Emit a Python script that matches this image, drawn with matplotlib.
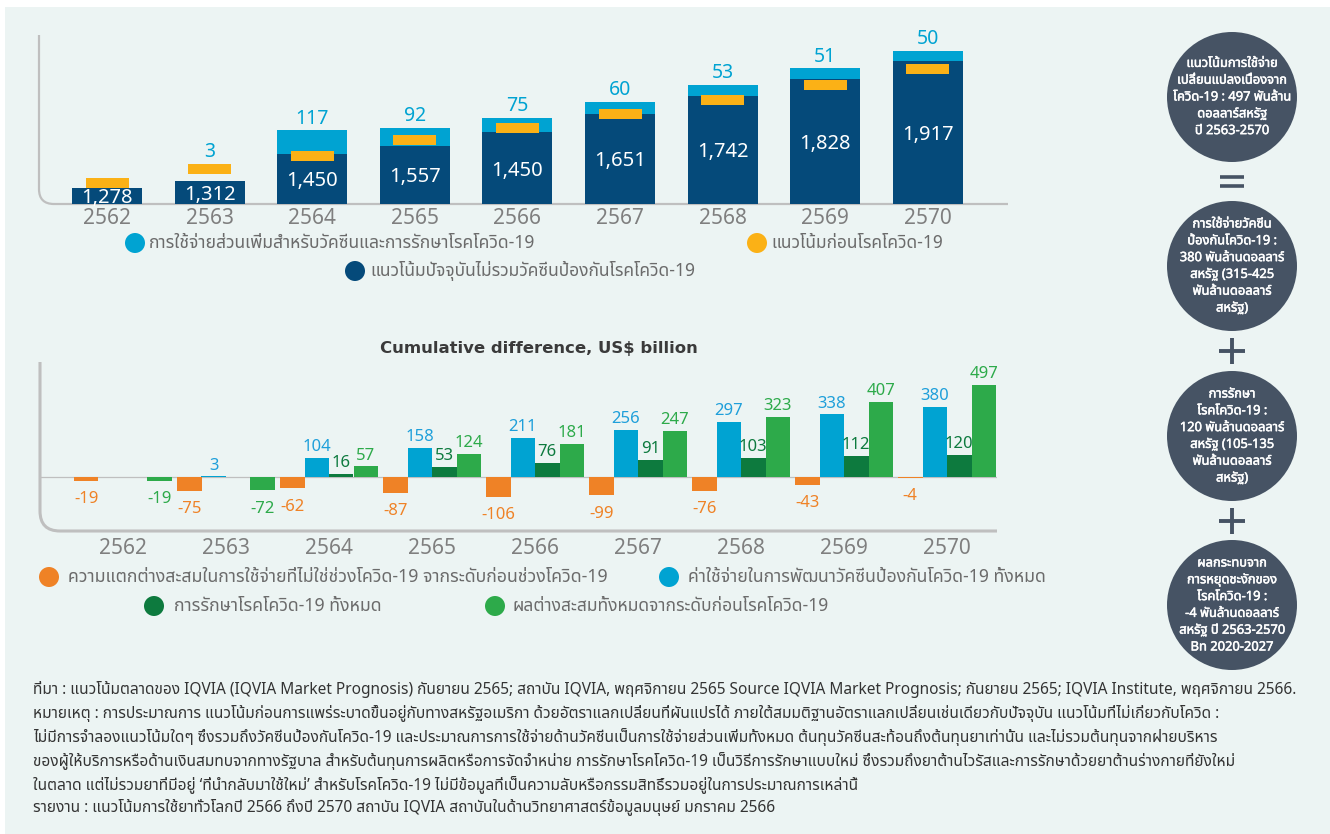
import matplotlib
matplotlib.use("Agg")
import matplotlib.pyplot as plt
import matplotlib.patheffects as pe
import numpy as np
from matplotlib import font_manager, ft2font
from matplotlib.patches import Circle, Rectangle, PathPatch
from matplotlib.path import Path

# ---- data ----
years = ["2562", "2563", "2564", "2565", "2566", "2567", "2568", "2569", "2570"]

# top chart (US$ billion)
current_trend = [1278, 1312, 1450, 1489, 1557, 1651, 1742, 1828, 1917]
current_labels = ["1,278", "1,312", "1,450", "1,557", "1,450", "1,651", "1,742", "1,828", "1,917"]
covid_extra = [0, 3, 117, 92, 75, 60, 53, 51, 50]
pre_covid = [1303, 1373, 1439, 1519, 1579, 1650, 1720, 1796, 1876]

# bottom chart: cumulative difference
non_covid_diff = [-19, -75, -62, -87, -106, -99, -76, -43, -4]
vaccine_total = [0, 3, 104, 158, 211, 256, 297, 338, 380]
therapy_total = [0, 0, 16, 53, 76, 91, 103, 112, 120]
total_diff = [-19, -72, 57, 124, 181, 247, 323, 407, 497]

top_legend = ["การใช้จ่ายส่วนเพิ่มสำหรับวัคซีนและการรักษาโรคโควิด-19",
              "แนวโน้มก่อนโรคโควิด-19",
              "แนวโน้มปัจจุบันไม่รวมวัคซีนป้องกันโรคโควิด-19"]
bottom_legend = ["ความแตกต่างสะสมในการใช้จ่ายที่ไม่ใช่ช่วงโควิด-19 จากระดับก่อนช่วงโควิด-19",
                 "ค่าใช้จ่ายในการพัฒนาวัคซีนป้องกันโควิด-19 ทั้งหมด",
                 "การรักษาโรคโควิด-19 ทั้งหมด",
                 "ผลต่างสะสมทั้งหมดจากระดับก่อนโรคโควิด-19"]
bubbles = [
    ["แนวโน้มการใช้จ่าย", "เปลี่ยนแปลงเนื่องจาก", "โควิด-19 : 497 พันล้าน", "ดอลลาร์สหรัฐ", "ปี 2563-2570"],
    ["การใช้จ่ายวัคซีน", "ป้องกันโควิด-19 :", "380 พันล้านดอลลาร์", "สหรัฐ (315-425", "พันล้านดอลลาร์", "สหรัฐ)"],
    ["การรักษา", "โรคโควิด-19 :", "120 พันล้านดอลลาร์", "สหรัฐ (105-135", "พันล้านดอลลาร์", "สหรัฐ)"],
    ["ผลกระทบจาก", "การหยุดชะงักของ", "โรคโควิด-19 :", "-4 พันล้านดอลลาร์", "สหรัฐ ปี 2563-2570", "Bn 2020-2027"],
]
footer = [
    "ที่มา : แนวโน้มตลาดของ IQVIA (IQVIA Market Prognosis) กันยายน 2565; สถาบัน IQVIA, พฤศจิกายน 2565 Source IQVIA Market Prognosis; กันยายน 2565; IQVIA Institute, พฤศจิกายน 2566.",
    "หมายเหตุ : การประมาณการ แนวโน้มก่อนการแพร่ระบาดขึ้นอยู่กับทางสหรัฐอเมริกา ด้วยอัตราแลกเปลี่ยนที่ผันแปรได้ ภายใต้สมมติฐานอัตราแลกเปลี่ยนเช่นเดียวกับปัจจุบัน แนวโน้มที่ไม่เกี่ยวกับโควิด :",
    "ไม่มีการจำลองแนวโน้มใดๆ ซึ่งรวมถึงวัคซีนป้องกันโควิด-19 และประมาณการการใช้จ่ายด้านวัคซีนเป็นการใช้จ่ายส่วนเพิ่มทั้งหมด ต้นทุนวัคซีนสะท้อนถึงต้นทุนยาเท่านั้น และไม่รวมต้นทุนจากฝ่ายบริหาร",
    "ของผู้ให้บริการหรือด้านเงินสมทบจากทางรัฐบาล สำหรับต้นทุนการผลิตหรือการจัดจำหน่าย การรักษาโรคโควิด-19 เป็นวิธีการรักษาแบบใหม่ ซึ่งรวมถึงยาต้านไวรัสและการรักษาด้วยยาต้านร่างกายที่ยังใหม่",
    "ในตลาด แต่ไม่รวมยาที่มีอยู่ ‘ที่นำกลับมาใช้ใหม่’ สำหรับโรคโควิด-19 ไม่มีข้อมูลที่เป็นความลับหรือกรรมสิทธิ์รวมอยู่ในการประมาณการเหล่านี้",
    "รายงาน : แนวโน้มการใช้ยาทั่วโลกปี 2566 ถึงปี 2570 สถาบัน IQVIA สถาบันในด้านวิทยาศาสตร์ข้อมูลมนุษย์ มกราคม 2566",
]

# ---- colours ----
BG = "#ECF4F3"
NAVY = "#054A7A"
CYAN = "#00A3D2"
YELLOW = "#FBB116"
ORANGE = "#EF8226"
DKGREEN = "#0D7A3E"
GREEN = "#2DAA4A"
SLATE = "#465364"
AXGRAY = "#BFBFBF"
TICKGRAY = "#7F7F7F"
TXTGRAY = "#6B6B6B"


# ---- font with Thai glyphs, if any ----
def find_thai_font():
    names = []
    for f in font_manager.fontManager.ttflist:
        try:
            if 0x0E01 in ft2font.FT2Font(f.fname).get_charmap():
                names.append(f.name)
        except Exception:
            pass
    for pref in ["Noto Sans Thai", "Noto Sans Thai UI", "Loma", "Garuda", "Sarabun", "Kinnari"]:
        if pref in names:
            return pref
    return names[0] if names else None


thai = find_thai_font()
fams = [thai, "DejaVu Sans"] if thai else ["DejaVu Sans"]
plt.rcParams["font.family"] = fams

installed = {f.name for f in font_manager.fontManager.ttflist}
title_font = "Liberation Sans Narrow" if "Liberation Sans Narrow" in installed else "DejaVu Sans"

W, H = 1330, 834
fig = plt.figure(figsize=(W / 100, H / 100), dpi=100)
fig.patch.set_facecolor("white")

# overlay axes in pixel coordinates (y downwards)
ov = fig.add_axes([0, 0, 1, 1])
ov.set_xlim(0, W)
ov.set_ylim(H, 0)
ov.axis("off")
ov.add_patch(Rectangle((5, 7), W - 5, H - 7, color=BG, lw=0))


def frame(x0, ytop, ybot, xend, r, lw):
    verts = [(x0, ytop), (x0, ybot - r), (x0, ybot), (x0 + r, ybot), (xend, ybot)]
    codes = [Path.MOVETO, Path.LINETO, Path.CURVE3, Path.CURVE3, Path.LINETO]
    ov.add_patch(PathPatch(Path(verts, codes), fill=False, ec=AXGRAY, lw=lw,
                           capstyle="butt"))


frame(39, 35, 204, 1008, 15, 1.6)
frame(40, 362, 531, 997, 20, 2.2)


def px_axes(x0, y0, x1, y1):
    a = fig.add_axes([x0 / W, 1 - y1 / H, (x1 - x0) / W, (y1 - y0) / H])
    a.patch.set_visible(False)
    for s in a.spines.values():
        s.set_visible(False)
    return a


renderer = fig.canvas.get_renderer()


def fit(t, width):
    w = t.get_window_extent(renderer).width
    t.set_fontsize(t.get_fontsize() * width / w)
    return t.get_fontsize()


x = np.arange(len(years))

# ---- top chart ----
step1, c1 = 102.6, 107
base_val, ppu = 1197, 0.1987
ax1 = px_axes(39, 35, 1008, 204)
ax1.set_xlim((39 - c1) / step1, (1008 - c1) / step1)
ax1.set_ylim(base_val, base_val + 169 / ppu)
bw = 70 / step1
cur = np.array(current_trend)
extra = np.array(covid_extra)
pre = np.array(pre_covid)
ax1.bar(x, cur, width=bw, color=NAVY, zorder=2)
ax1.bar(x, extra, bottom=cur, width=bw, color=CYAN, zorder=2)
thick = 10 / ppu
ax1.bar(x, thick, bottom=pre - thick / 2, width=43 / step1, color=YELLOW, zorder=3)
for i in range(len(years)):
    ax1.text(x[i], (cur[i] + base_val) / 2, current_labels[i], color="white",
             fontsize=14.5, ha="center", va="center_baseline", zorder=4)
    if extra[i] > 0:
        top = max(cur[i] + extra[i], pre[i] + thick / 2)
        ax1.annotate(str(extra[i]), (x[i], top), xytext=(0, 5), textcoords="offset points",
                     ha="center", va="baseline", color=CYAN, fontsize=14)
ax1.set_xticks(x, years)
ax1.set_yticks([])
ax1.tick_params(axis="x", length=0, pad=3, labelsize=15, labelcolor=TICKGRAY)


# legends
def legend_item(cx, cy, color, label, width, tx):
    ov.add_patch(Circle((cx, cy), 10, color=color, lw=0))
    t = ov.text(tx, cy, label, color=TXTGRAY, fontsize=12, ha="left", va="center")
    fit(t, width)


legend_item(135, 243, CYAN, top_legend[0], 387, 149)
legend_item(757, 243, YELLOW, top_legend[1], 172, 771)
legend_item(355, 271, NAVY, top_legend[2], 327, 370)

# ---- bottom chart ----
step2, c2 = 103, 123
ppu2 = 0.185
ax2 = px_axes(40, 362, 997, 531)
ax2.set_xlim((40 - c2) / step2, (997 - c2) / step2)
ax2.set_ylim(-(531 - 477) / ppu2, (477 - 362) / ppu2)
ax2.axhline(0, color=AXGRAY, lw=0.9, zorder=1)
w2 = 24.5 / step2
series = [(non_covid_diff, ORANGE), (vaccine_total, CYAN),
          (therapy_total, DKGREEN), (total_diff, GREEN)]
label_colors = [ORANGE, "#1E9FDA", DKGREEN, GREEN]
for k, (vals, col) in enumerate(series):
    xs = x + (k - 1.5) * w2
    ax2.bar(xs, vals, width=w2, color=col, zorder=2)
    for xi, v in zip(xs, vals):
        if v == 0:
            continue
        off = 5 if v > 0 else -16
        ax2.annotate(str(v), (xi, v), xytext=(0, off), textcoords="offset points",
                     ha="center", va="baseline", color=label_colors[k], fontsize=12,
                     zorder=3)
ax2.set_xticks(x, years)
ax2.set_yticks([])
ax2.tick_params(axis="x", length=0, pad=5, labelsize=15, labelcolor=TICKGRAY)

title = ov.text(539, 348, "Cumulative difference, US$ billion", color="#3A3A3A",
                fontsize=13, fontweight="bold", family=[title_font],
                ha="center", va="center")
fit(title, 316)

legend_item(49, 577, ORANGE, bottom_legend[0], 541, 68)
legend_item(669, 577, CYAN, bottom_legend[1], 359, 688)
legend_item(154, 606, DKGREEN, bottom_legend[2], 208, 174)
legend_item(495, 606, GREEN, bottom_legend[3], 317, 513)

# ---- bubbles on the right ----
bx, br = 1232, 65
bys = [97, 266, 436, 605]
probe = ov.text(0, 0, bubbles[0][2], fontsize=10)
bsize = fit(probe, 118)
probe.remove()
bold = [pe.withStroke(linewidth=0.35, foreground="white")]
for cy, lines in zip(bys, bubbles):
    ov.add_patch(Circle((bx, cy), br, color=SLATE, lw=0))
    n = len(lines)
    for j, ln in enumerate(lines):
        ov.text(bx, cy + (j - (n - 1) / 2) * 16.8, ln, color="white", fontsize=bsize,
                ha="center", va="center", path_effects=bold)

# = and + signs
for yy in (177, 186):
    ov.plot([1220, 1244], [yy, yy], color=SLATE, lw=2.6, solid_capstyle="butt")
for cy in (351, 521):
    ov.plot([1219, 1245], [cy, cy], color=SLATE, lw=2.8, solid_capstyle="butt")
    ov.plot([1232, 1232], [cy - 13, cy + 13], color=SLATE, lw=2.8, solid_capstyle="butt")

# ---- footer ----
flines = [ov.text(33, 690 + j * 23.6, ln, color="#333333", fontsize=10, ha="left",
                  va="center") for j, ln in enumerate(footer)]
widest = max(t.get_window_extent(renderer).width for t in flines)
fsize = 10 * 1262 / widest
for t in flines:
    t.set_fontsize(fsize)

fig.savefig("out.png", dpi=100, facecolor=fig.get_facecolor())
